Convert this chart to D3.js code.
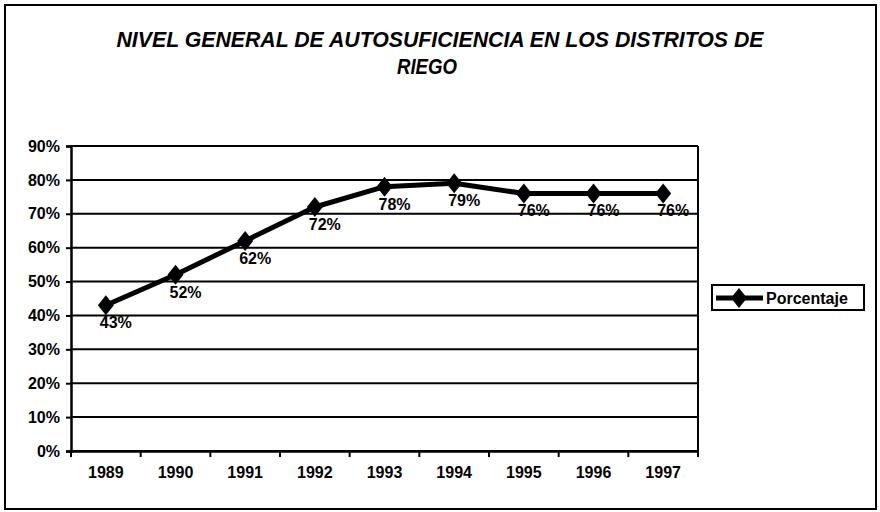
<!DOCTYPE html>
<html>
<head>
<meta charset="utf-8">
<script src="https://cdn.jsdelivr.net/npm/d3@7"></script>
<style>
  body { margin: 0; background: #fff; }
  svg text { font-family: "Liberation Sans", Arial, sans-serif; fill: #000; }
</style>
</head>
<body>
<svg width="880" height="512"></svg>
<script>
// datos del gráfico
const years = ["1989", "1990", "1991", "1992", "1993", "1994", "1995", "1996", "1997"];
const porcentaje = [43, 52, 62, 72, 78, 79, 76, 76, 76];
const yTicks = [0, 10, 20, 30, 40, 50, 60, 70, 80, 90];
const titleLines = ["NIVEL GENERAL DE AUTOSUFICIENCIA EN LOS DISTRITOS DE", "RIEGO"];
const seriesName = "Porcentaje";

const svg = d3.select("svg");

// marco exterior
svg.append("rect")
  .attr("x", 5).attr("y", 5)
  .attr("width", 871).attr("height", 504)
  .attr("fill", "none").attr("stroke", "#000").attr("stroke-width", 2);

// título
svg.append("text")
  .attr("x", 440).attr("y", 47)
  .attr("text-anchor", "middle")
  .attr("textLength", 647).attr("lengthAdjust", "spacingAndGlyphs")
  .style("font-size", "22px").style("font-weight", "bold").style("font-style", "italic")
  .text(titleLines[0]);
svg.append("text")
  .attr("x", 427).attr("y", 74)
  .attr("text-anchor", "middle")
  .attr("textLength", 60).attr("lengthAdjust", "spacingAndGlyphs")
  .style("font-size", "22px").style("font-weight", "bold").style("font-style", "italic")
  .text(titleLines[1]);

// escalas
const x = d3.scaleBand().domain(years).range([71, 698]);
const y = d3.scaleLinear().domain([0, 90]).range([451, 146]);

// líneas de división
svg.selectAll(".grid")
  .data(yTicks)
  .enter()
  .append("line")
  .attr("x1", 71).attr("x2", 698)
  .attr("y1", (d) => y(d)).attr("y2", (d) => y(d))
  .attr("stroke", "#000").attr("stroke-width", 2);

// borde derecho del área de trazado
svg.append("line")
  .attr("x1", 698).attr("x2", 698)
  .attr("y1", y(90)).attr("y2", y(0))
  .attr("stroke", "#000").attr("stroke-width", 2);

// eje Y
const yAxis = svg.append("g")
  .attr("transform", "translate(71,0)")
  .call(d3.axisLeft(y).tickValues(yTicks).tickSize(5).tickPadding(6).tickFormat((d) => d + "%"));
yAxis.select(".domain").attr("stroke-width", 2.5);
yAxis.selectAll(".tick line").attr("stroke-width", 2);
yAxis.selectAll("text").style("font-size", "16px").style("font-weight", "bold");

// eje X
const xAxis = svg.append("g")
  .attr("transform", `translate(0,${y(0)})`)
  .call(d3.axisBottom(x).tickSize(0).tickPadding(16));
xAxis.select(".domain").attr("stroke-width", 2.5);
xAxis.selectAll("text").style("font-size", "16px").style("font-weight", "bold");

// marcas entre categorías
svg.selectAll(".xtick")
  .data(years.concat([null]))
  .enter()
  .append("line")
  .attr("x1", (d, i) => 71 + i * x.step())
  .attr("x2", (d, i) => 71 + i * x.step())
  .attr("y1", y(0)).attr("y2", y(0) + 6)
  .attr("stroke", "#000").attr("stroke-width", 2);

const cx = (d, i) => x(years[i]) + x.bandwidth() / 2;

// línea de la serie
const line = d3.line()
  .x((d, i) => cx(d, i))
  .y((d) => y(d));

svg.append("path")
  .datum(porcentaje)
  .attr("d", line)
  .attr("fill", "none")
  .attr("stroke", "#000")
  .attr("stroke-width", 5)
  .attr("stroke-linejoin", "round");

// marcadores de rombo
const diamond = "M0,-10L8,0L0,10L-8,0Z";
svg.selectAll(".marker")
  .data(porcentaje)
  .enter()
  .append("path")
  .attr("d", diamond)
  .attr("transform", (d, i) => `translate(${cx(d, i)},${y(d)})`)
  .attr("fill", "#000");

// etiquetas de datos
svg.selectAll(".label")
  .data(porcentaje)
  .enter()
  .append("text")
  .attr("x", (d, i) => cx(d, i) + 10)
  .attr("y", (d) => y(d) + 23)
  .attr("text-anchor", "middle")
  .style("font-size", "16px").style("font-weight", "bold")
  .text((d) => d + "%");

// leyenda
const legend = svg.append("g");
legend.append("rect")
  .attr("x", 712).attr("y", 285)
  .attr("width", 152).attr("height", 25)
  .attr("fill", "#fff").attr("stroke", "#000").attr("stroke-width", 2);
legend.append("line")
  .attr("x1", 716).attr("x2", 763)
  .attr("y1", 298).attr("y2", 298)
  .attr("stroke", "#000").attr("stroke-width", 5);
legend.append("path")
  .attr("d", diamond)
  .attr("transform", "translate(739,298)")
  .attr("fill", "#000");
legend.append("text")
  .attr("x", 766).attr("y", 304)
  .style("font-size", "16px").style("font-weight", "bold")
  .text(seriesName);
</script>
</body>
</html>
